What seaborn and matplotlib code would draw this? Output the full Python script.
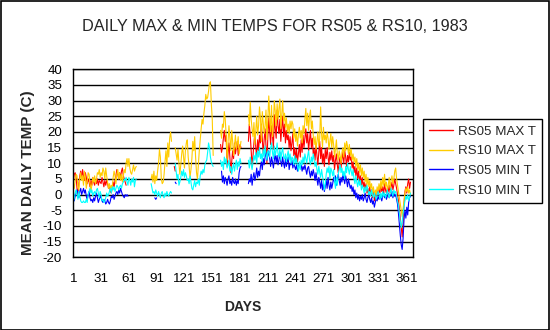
import numpy as np
import pandas as pd
import matplotlib
matplotlib.use("Agg")
import matplotlib.pyplot as plt
import seaborn as sns
from matplotlib.patches import Rectangle

N = np.nan

# Daily temperatures (deg C), day 1 .. 365 of 1983; N marks a missing reading
rs05_max = [
    4.0, 6.5, 7.0, 5.5, 2.0, 0.0, 3.5, 6.0, 7.5, 5.0,
    8.0, 6.0, 4.5, 7.0, 5.5, 3.5, 5.0, 4.0, 2.5, 4.5,
    3.0, 5.5, 4.0, 3.0, 4.5, 3.5, 5.0, 3.0, 4.5, 4.0,
    3.5, 5.5, 4.0, 2.5, 4.5, 3.0, 4.5, 3.5, 2.0, 3.0,
    1.0, 0.5, 2.0, 4.0, 2.5, 4.5, 6.0, 8.0, 6.5, 5.0,
    7.0, 5.5, 7.5, 8.5, 6.0, 5.0, 4.0, 3.0, N, N,
    N, N, N, N, N, N, N, N, N, N,
    N, N, N, N, N, N, N, N, N, N,
    N, N, N, N, N, N, N, N, N, N,
    N, N, N, N, N, N, N, N, N, N,
    N, N, N, N, N, N, N, N, N, 9.0,
    7.5, N, N, N, N, N, N, N, N, N,
    N, N, N, N, N, N, N, N, N, N,
    N, N, N, N, N, N, N, N, N, N,
    N, N, N, N, N, N, N, N, N, N,
    N, N, N, N, N, N, N, N, N, 16.0,
    13.5, 15.0, 18.0, 20.5, 17.0, 19.0, 9.0, 13.0, 16.5, 12.0,
    7.0, 10.5, 14.0, 11.5, 16.5, 13.0, 15.0, 17.0, 12.5, 14.5,
    16.0, 15.0, N, N, N, N, N, N, N, 17.0,
    22.5, 19.0, 14.0, 9.0, 12.5, 16.5, 20.0, 15.0, 12.0, 17.5,
    14.0, 19.0, 16.5, 22.5, 18.0, 13.0, 17.5, 21.0, 15.5, 10.0,
    18.5, 24.5, 20.0, 16.0, 22.0, 19.0, 14.5, 25.5, 21.0, 18.0,
    27.0, 22.0, 19.5, 24.0, 17.0, 21.5, 25.0, 18.5, 22.5, 16.5,
    20.5, 17.5, 19.0, 15.0, 18.5, 14.0, 16.5, 19.5, 12.5, 15.0,
    11.0, 14.5, 10.5, 13.0, 16.0, 12.0, 17.5, 13.5, 19.0, 15.0,
    18.0, 21.0, 16.5, 19.5, 14.0, 17.5, 20.5, 15.0, 18.0, 13.0,
    14.5, 11.0, 16.0, 12.5, 9.5, 13.5, 17.0, 11.5, 15.0, 10.0,
    13.0, 9.0, 14.5, 11.5, 15.0, 12.0, 9.5, 13.5, 11.0, 14.0,
    10.5, 12.5, 8.0, 11.0, 13.0, 9.5, 7.0, 10.5, 12.0, 8.5,
    11.5, 13.5, 10.0, 14.0, 12.0, 9.0, 12.5, 10.5, 13.5, 11.0,
    12.0, 8.5, 10.5, 7.0, 9.0, 6.0, 8.5, 5.0, 7.5, 4.0,
    6.0, 3.0, 5.5, 2.5, 4.0, 1.5, 3.5, 0.5, 2.0, -0.5,
    2.5, 0.0, 1.5, -1.0, 1.0, -2.0, 0.5, -1.5, 1.5, 0.0,
    2.0, 0.5, 3.0, 1.0, 2.5, 0.0, 3.5, 1.5, 0.5, 2.0,
    1.0, 3.0, 0.5, 2.5, 4.0, 1.5, 3.0, 5.0, 3.5, 2.0,
    0.0, -2.0, -4.5, -7.5, -10.5, -13.5, -9.0, -3.0, 1.0, 2.5,
    0.5, 3.5, 5.0, 2.0, 4.0,
]

rs10_max = [
    3.5, 2.0, 4.5, 6.5, 6.0, 2.5, 1.5, 5.0, 7.0, 4.5,
    6.0, 3.0, 7.5, 5.5, 2.0, 4.0, 7.0, 6.5, 3.5, 1.0,
    3.0, 5.5, 4.0, 6.0, 3.5, 5.0, 7.0, 6.5, 8.0, 5.5,
    7.0, 6.0, 8.5, 7.5, 5.0, 8.5, 6.0, 4.0, 2.0, 3.5,
    1.5, 3.0, 2.0, 5.5, 7.5, 6.0, 3.5, 6.5, 8.0, 5.0,
    7.0, 4.5, 6.5, 4.0, 6.0, 8.0, 7.0, 10.0, 11.5, 9.0,
    11.5, 8.5, 7.0, 6.5, 8.0, 9.5, 7.5, 8.5, 9.0, N,
    N, N, N, N, N, N, N, N, N, N,
    N, N, N, N, 5.0, 6.5, 4.0, 7.5, 3.5, 6.0,
    4.5, 7.5, 10.0, 14.5, 12.0, 5.0, 3.5, 4.0, 6.5, 10.5,
    14.0, 9.0, 16.5, 12.0, 18.0, 20.0, 17.0, N, N, N,
    15.0, 13.0, 11.0, 14.5, 10.0, 6.5, 9.5, 13.0, 15.5, 12.0,
    8.5, 14.0, 16.5, 17.5, 12.0, 9.0, 5.5, 8.0, 11.5, 17.0,
    14.0, 18.5, 12.0, 7.0, 5.0, 9.5, 14.0, 17.5, 21.0, 24.0,
    22.5, 26.0, 28.5, 32.0, 30.5, 31.0, 33.0, 35.5, 36.0, 29.0,
    24.0, 12.5, N, N, N, N, N, N, N, 20.5,
    18.0, 22.5, 21.5, 26.5, 24.0, 19.0, 11.0, 16.5, 22.0, 18.0,
    14.0, 20.5, 17.0, 12.5, 15.5, 19.0, 14.5, 16.0, 18.5, 13.0,
    15.0, 17.0, N, N, N, N, N, N, N, 25.5,
    22.0, 29.5, 24.0, 21.0, 18.5, 23.0, 16.0, 20.5, 25.0, 19.0,
    22.0, 28.0, 24.5, 17.0, 26.5, 23.0, 19.5, 22.0, 27.0, 17.5,
    24.0, 31.5, 25.0, 20.0, 28.5, 18.5, 23.0, 30.0, 26.5, 22.0,
    29.0, 24.0, 27.5, 30.5, 21.0, 25.5, 30.0, 23.5, 26.0, 21.5,
    24.5, 20.0, 22.5, 19.5, 23.5, 21.0, 23.5, 22.5, 18.0, 21.0,
    17.0, 19.5, 15.5, 19.0, 21.5, 18.0, 20.5, 16.5, 22.0, 19.5,
    24.0, 27.5, 22.0, 26.0, 20.5, 25.0, 27.0, 21.0, 23.5, 19.0,
    16.0, 18.5, 14.5, 17.0, 20.0, 15.5, 18.0, 28.0, 19.5, 15.0,
    21.5, 17.5, 19.0, 16.5, 20.0, 18.0, 14.5, 17.0, 19.5, 15.0,
    18.5, 16.0, 12.0, 14.5, 17.5, 13.0, 11.0, 14.0, 12.5, 10.0,
    13.5, 15.0, 12.0, 16.5, 14.0, 17.0, 15.5, 13.0, 16.0, 12.5,
    14.5, 11.0, 13.0, 10.5, 12.0, 9.0, 11.5, 8.0, 10.0, 7.0,
    9.5, 6.0, 8.5, 5.5, 7.5, 4.0, 6.5, 3.0, 5.5, 2.5,
    4.5, 2.0, 3.5, 0.5, 2.5, -0.5, 1.5, 0.0, 2.5, 1.0,
    3.5, 1.5, 4.5, 2.0, 5.5, 3.0, 6.5, 2.5, 4.0, 1.5,
    3.0, 5.5, 2.0, 4.5, 6.0, 3.5, 5.0, 7.5, 8.5, 5.0,
    3.0, 1.0, -1.0, -3.0, -5.0, -7.0, -4.5, -2.0, 0.5, 2.0,
    1.0, 2.5, 0.5, 1.5, 0.0,
]

rs05_min = [
    -1.5, -2.0, -0.5, 0.5, 1.5, 0.5, -1.0, 1.0, 2.0, 0.0,
    1.0, 2.0, 0.5, 1.5, -0.5, -1.5, 0.0, 1.0, -1.0, -2.0,
    -1.5, -2.5, -1.0, -2.0, -0.5, 0.5, -1.0, -2.5, -1.5, -0.5,
    -1.0, -2.0, -2.5, -1.5, -2.0, -3.0, -2.5, -1.5, -2.5, -3.0,
    -2.0, -0.5, -1.0, 0.0, -1.5, -0.5, 0.5, 1.0, 0.0, 1.5,
    0.5, 2.0, 1.0, 0.0, -0.5, -1.0, 0.0, -0.5, 0.0, -0.5,
    N, N, N, N, N, N, N, N, N, N,
    N, N, N, N, N, N, N, N, N, N,
    N, N, N, N, N, N, N, N, -1.0, -1.5,
    -1.0, N, N, N, N, N, N, N, N, N,
    N, N, N, N, N, N, N, N, N, N,
    4.0, 3.5, N, N, N, N, N, N, N, N,
    N, N, N, N, N, N, N, N, N, N,
    N, N, N, N, N, N, N, N, N, N,
    N, N, N, N, N, N, N, N, N, N,
    N, N, N, N, N, N, N, N, N, N,
    7.5, 4.0, 6.0, 3.5, 5.5, 4.5, 3.0, 5.0, 6.0, 3.5,
    4.5, 3.0, 5.5, 4.0, 3.5, 5.0, 3.0, 4.5, 3.5, 7.0,
    8.5, 9.0, N, N, N, N, N, N, N, 3.5,
    5.0, 4.0, 6.5, 3.0, 5.5, 7.0, 4.5, 6.0, 8.5, 5.5,
    7.5, 6.0, 9.0, 10.5, 8.0, 11.5, 9.5, 12.0, 13.5, 11.0,
    12.5, 14.0, 11.5, 9.0, 12.0, 10.5, 8.5, 11.0, 13.0, 10.0,
    12.5, 9.5, 11.0, 13.5, 10.5, 9.0, 12.0, 10.0, 8.5, 11.5,
    9.0, 10.5, 12.0, 8.0, 10.0, 9.5, 11.0, 8.5, 10.0, 9.0,
    8.0, 9.5, 7.5, 9.0, 10.0, 8.5, 9.5, 7.5, 9.0, 8.0,
    9.5, 8.0, 6.5, 8.5, 9.0, 7.0, 5.5, 7.5, 6.0, 8.0,
    6.5, 4.5, 7.0, 5.0, 3.0, 5.5, 4.0, 2.0, 4.5, 1.5,
    3.5, 1.0, 2.5, 4.5, 2.0, 5.5, 3.0, 1.5, 4.0, 2.0,
    3.5, 5.5, 4.0, 6.0, 3.0, 5.0, 6.5, 4.5, 3.0, 5.5,
    4.0, 6.5, 5.0, 3.5, 6.0, 4.5, 2.5, 5.0, 3.5, 2.0,
    3.0, 1.0, 2.5, 0.0, 1.5, -1.0, 0.5, -1.5, 0.0, -2.0,
    -0.5, -1.5, 0.0, -2.0, -1.0, 0.5, -1.5, -2.5, -1.0, 0.0,
    -1.5, -2.5, -1.0, -3.0, -2.0, -4.0, -2.5, -1.0, -2.0, -0.5,
    -1.5, 0.0, -1.0, -2.0, -0.5, 0.5, -1.0, 0.0, -1.5, -0.5,
    0.5, -1.0, 0.0, -0.5, 1.0, -1.0, 0.5, -0.5, 0.0, -1.5,
    -3.0, -6.0, -9.5, -13.0, -16.0, -17.5, -14.0, -8.0, -5.0, -7.5,
    -4.0, -6.5, -2.5, -1.0, -0.5,
]

rs10_min = [
    -2.5, -1.0, 0.5, 1.5, 0.0, -1.5, 1.0, -0.5, -2.0, -2.5,
    -2.5, -2.0, -2.5, -2.5, -1.5, -2.5, 0.0, 1.0, 2.0, 0.5,
    1.5, -0.5, 0.5, 1.0, 0.0, 1.5, 2.0, 0.5, -1.0, 1.0,
    0.0, -2.0, -1.5, -2.5, -2.0, -1.0, 0.5, -0.5, 0.0, 1.0,
    2.0, 0.5, 2.5, 1.5, 2.5, 1.0, 2.0, 3.0, 2.5, 1.5,
    2.5, 3.0, 2.0, 3.5, 4.0, 5.0, 4.5, 5.5, 4.0, 3.0,
    5.5, 4.5, 3.0, 5.0, 4.0, 5.5, 2.5, 4.5, 5.0, N,
    N, N, N, N, N, N, N, N, N, N,
    N, N, N, N, 3.5, 2.0, 0.5, 1.0, 0.0, 1.5,
    0.5, -0.5, 1.0, 0.0, -1.0, 0.5, 1.0, -0.5, -1.0, 0.5,
    -0.5, 1.0, 0.0, -0.5, 0.5, 1.0, 0.5, N, N, N,
    10.0, 7.5, 5.0, 6.5, 3.0, 4.0, 5.5, 7.5, 6.0, 8.0,
    5.5, 7.0, 6.0, 4.5, 5.0, 3.5, 6.0, 4.0, 2.0, 1.5,
    3.0, 4.5, 2.5, 4.0, 3.5, 5.0, 3.0, 6.0, 7.5, 6.5,
    8.0, 7.0, 9.5, 10.5, 11.0, 13.5, 16.5, 15.0, 12.0, 10.5,
    9.5, 9.0, N, N, N, N, N, N, N, 11.0,
    9.0, 10.5, 8.0, 12.0, 10.0, 11.5, 8.5, 9.5, 11.0, 7.5,
    9.0, 6.5, 8.5, 10.0, 7.5, 9.5, 11.0, 8.0, 10.5, 9.0,
    11.5, 10.0, N, N, N, N, N, N, N, 11.0,
    8.5, 12.0, 9.5, 8.0, 10.5, 12.5, 11.0, 13.5, 10.0, 14.0,
    12.0, 15.0, 11.5, 13.0, 10.5, 14.5, 12.0, 15.5, 13.0, 11.0,
    14.0, 13.5, 12.0, 15.0, 16.5, 13.5, 11.5, 15.5, 12.5, 14.0,
    16.5, 13.0, 12.0, 14.5, 11.0, 13.5, 15.0, 12.0, 11.5, 13.0,
    10.5, 12.5, 14.0, 11.0, 13.0, 10.0, 12.0, 11.5, 9.5, 12.5,
    10.0, 11.5, 9.0, 7.5, 10.5, 8.0, 11.0, 9.5, 12.0, 10.0,
    13.0, 11.5, 10.0, 12.5, 14.0, 11.0, 9.5, 12.0, 10.5, 13.0,
    11.0, 9.0, 10.5, 8.0, 6.5, 9.0, 7.0, 5.5, 8.0, 6.0,
    4.0, 1.5, 3.5, 6.5, 8.5, 7.0, 9.0, 5.0, 8.5, 7.5,
    6.0, 8.0, 4.5, 2.0, 5.5, 3.0, 6.5, 8.0, 9.5, 7.0,
    8.5, 6.0, 7.5, 5.0, 9.0, 7.0, 10.0, 8.0, 6.5, 9.0,
    7.5, 6.0, 8.0, 5.0, 3.5, 6.0, 4.0, 2.5, 5.0, 3.0,
    4.5, 1.5, 3.0, 2.0, 0.5, 2.5, 1.0, 3.0, 1.5, 0.0,
    1.0, -0.5, 1.5, 0.0, -1.0, 0.5, -0.5, -1.5, 0.0, 1.0,
    0.0, -1.5, 0.5, -1.0, 1.0, -0.5, 0.5, -1.0, 0.0, 1.5,
    0.0, -1.0, 0.5, 2.0, 0.5, -0.5, 1.5, 0.5, 1.0, -0.5,
    -2.0, -3.5, -6.0, -8.5, -10.5, -9.0, -6.0, -4.0, -2.0, -0.5,
    -1.5, 0.0, -2.0, -1.0, 0.5,
]

series_names = ["RS05 MAX T", "RS10 MAX T", "RS05 MIN T", "RS10 MIN T"]
series_values = [rs05_max, rs10_max, rs05_min, rs10_min]
series_colors = ["#FF0000", "#FFCC00", "#0000FF", "#00FFFF"]
day_ticks = [1, 31, 61, 91, 121, 151, 181, 211, 241, 271, 301, 331, 361]
temp_ticks = list(range(-20, 41, 5))

# Long-form table; every unbroken run of readings gets its own unit id so
# missing days stay as gaps in the lines.
frames = []
for name, vals in zip(series_names, series_values):
    v = np.asarray(vals, dtype=float)
    run = np.cumsum(np.isnan(v))
    df = pd.DataFrame({"day": np.arange(1, len(v) + 1), "temp": v,
                       "series": name, "run": [f"{name}-{r}" for r in run]})
    frames.append(df.dropna(subset=["temp"]))
data = pd.concat(frames, ignore_index=True)

sns.set_style("white")
plt.rcParams["font.family"] = ["Liberation Sans", "DejaVu Sans"]

fig = plt.figure(figsize=(5.5, 3.3), dpi=100)
fig.patch.set_facecolor("white")
ax = fig.add_axes([0.1333, 0.2203, 0.6176, 0.5697])

sns.lineplot(data=data, x="day", y="temp", hue="series", units="run",
             estimator=None, hue_order=series_names,
             palette=dict(zip(series_names, series_colors)),
             linewidth=0.8, ax=ax, legend="brief")

ax.set_xlim(1, 367.7)
ax.set_ylim(-20, 40)
ax.set_xticks(day_ticks)
ax.set_xticklabels([str(d) for d in day_ticks])
ax.set_yticks(temp_ticks)
ax.set_yticklabels([str(t) for t in temp_ticks])
ax.yaxis.grid(True, color="black", linewidth=1.0)
ax.xaxis.grid(False)
ax.set_axisbelow(True)
for sp in ax.spines.values():
    sp.set_visible(True)
    sp.set_color("black")
    sp.set_linewidth(1.0)
ax.tick_params(axis="both", direction="out", width=1, color="black",
               labelsize=9.6, labelcolor="black")
ax.tick_params(axis="y", length=3.6, pad=4.5)
ax.tick_params(axis="x", length=3, pad=8.5)

ax.set_xlabel("DAYS", fontsize=10, fontweight="bold")
ax.xaxis.set_label_coords(0.5, -0.226)
ax.set_ylabel("")
fig.text(28 / 550, 1 - 172.5 / 330, "MEAN DAILY TEMP (C)", rotation=90,
         ha="center", va="center", fontsize=11, fontweight="bold")

fig.text(0.5, 1 - 26.5 / 330, "DAILY MAX & MIN TEMPS FOR RS05 & RS10, 1983",
         ha="center", va="center", fontsize=11.7)

handles, labels = ax.get_legend_handles_labels()
leg = ax.legend(handles, labels, loc="upper left",
                bbox_to_anchor=(423.3 / 550, 1 - 119.3 / 330),
                bbox_transform=fig.transFigure, borderaxespad=0,
                frameon=True, fancybox=False, framealpha=1,
                edgecolor="black", fontsize=9.6, handlelength=1.8,
                handletextpad=0.35, labelspacing=0.55, borderpad=0.45)
leg.get_frame().set_linewidth(1.0)
for line in leg.get_lines():
    line.set_linewidth(1.0)

# Outer border round the whole chart
fig.patches.append(Rectangle((0.001, 0.0015), 0.997, 0.996, transform=fig.transFigure,
                             fill=False, edgecolor="black", linewidth=1.2))

fig.savefig("out.png", dpi=100)
